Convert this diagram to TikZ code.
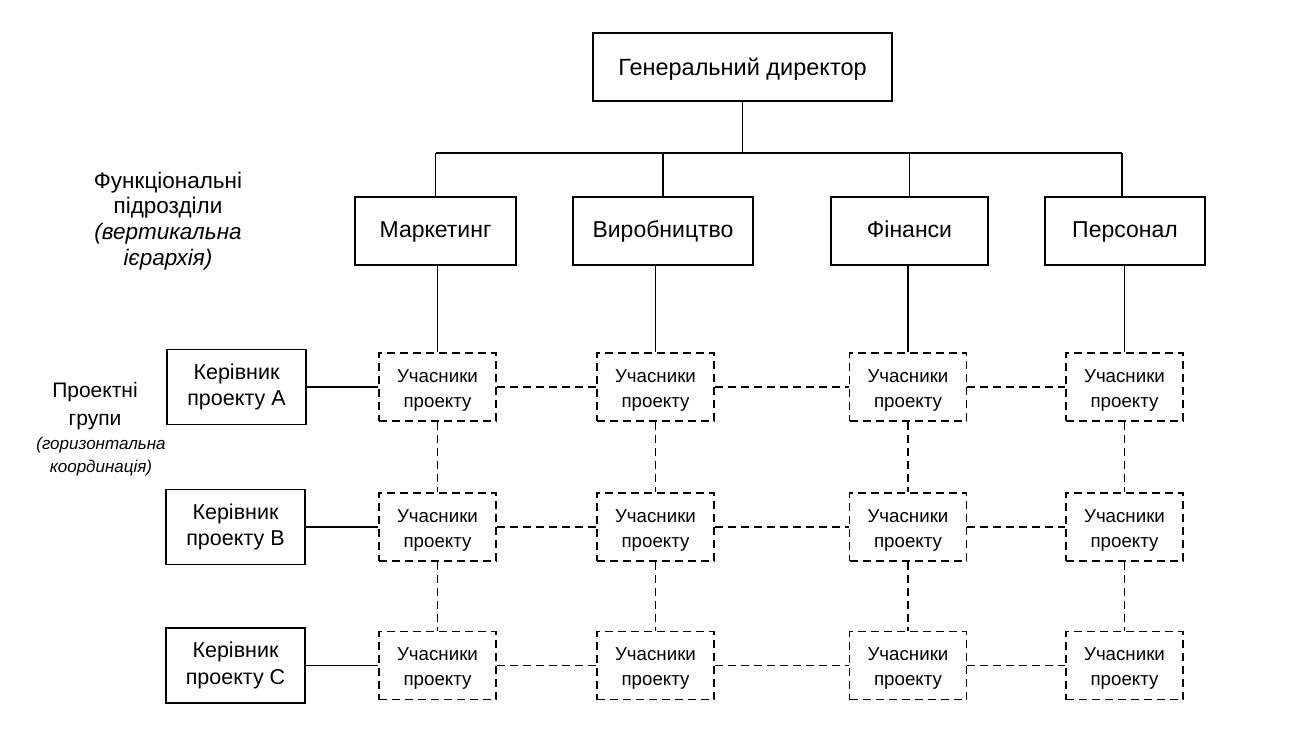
\documentclass[tikz,border=0pt]{standalone}
\usepackage{fontspec}
\setmainfont{Liberation Sans}
\begin{document}
\begin{tikzpicture}[x=1pt,y=-1pt,
  solidbox/.style={draw, line width=1.5pt, minimum height=68pt, inner sep=0pt, align=center, text height=16pt, text depth=4pt, font=\fontsize{23}{26}\selectfont},
  mgrbox/.style={draw, line width=1.5pt, minimum width=139pt, minimum height=75pt, inner sep=0pt, align=center, font=\fontsize{21.5}{26.5}\selectfont},
  membox/.style={draw, line width=1.4pt, dash pattern=on 8pt off 5pt, minimum width=117pt, minimum height=68pt, inner sep=0pt, align=center, font=\fontsize{18.7}{25}\selectfont},
  conn/.style={line width=1.5pt},
  dconn/.style={line width=1.4pt, dash pattern=on 8pt off 5pt},
  lbl/.style={align=center, font=\fontsize{22.5}{25.5}\selectfont},
  lbli/.style={align=center, font=\fontsize{17}{23}\selectfont\itshape}
]
\useasboundingbox (0,0) rectangle (1304,747);
\fill[white] (0,0) rectangle (1304,747);

\node[solidbox, minimum width=299pt, text height=21pt, font=\fontsize{23.5}{26}\selectfont] (gen) at (742.5,67) {Генеральний директор};

\node[solidbox, minimum width=161pt] (mark) at (435.5,231) {Маркетинг};
\node[solidbox, minimum width=180pt] (vyr) at (663,231) {Виробництво};
\node[solidbox, minimum width=157pt] (fin) at (909.5,231) {Фінанси};
\node[solidbox, minimum width=160pt] (pers) at (1125,231) {Персонал};

\coordinate (busL) at (435.5,153);
\coordinate (busR) at (1122,153);

\node[mgrbox] (ma) at (236.5,387) {Керівник\\проекту A};
\node[mgrbox] (mb) at (235.5,527) {Керівник\\проекту B};
\node[mgrbox] (mc) at (235.5,665.5) {Керівник\\проекту C};

\foreach \r/\y in {1/387,2/527,3/665.5}{
  \node[membox] (u\r1) at (437.5,\y) {\rule{0pt}{19.5pt}Учасники\\проекту};
  \node[membox] (u\r2) at (655.5,\y) {\rule{0pt}{19.5pt}Учасники\\проекту};
  \node[membox] (u\r3) at (908,\y) {\rule{0pt}{19.5pt}Учасники\\проекту};
  \node[membox] (u\r4) at (1124.5,\y) {\rule{0pt}{19.5pt}Учасники\\проекту};
}

\node[lbl] (fl1) at (168,195) {Функціональні\\підрозділи};
\node[lbli, font=\fontsize{22.5}{25.5}\selectfont\itshape] (fl2) at (168,246.5) {(вертикальна\\ієрархія)};
\node[lbl, font=\fontsize{21}{28}\selectfont] (pl1) at (95,406) {Проектні\\групи};
\node[lbli] (pl2) at (101,457) {(горизонтальна\\координація)};

% hierarchy
\draw[conn] (gen.south) -- (gen.south |- busL);
\draw[conn] (busL) -- (busR);
\draw[conn] (mark.north |- busL) -- (mark.north);
\draw[conn] (vyr.north |- busL) -- (vyr.north);
\draw[conn] (fin.north |- busL) -- (fin.north);
\draw[conn] (busR) -- (busR |- pers.north);

\draw[conn] (u11.north |- mark.south) -- (u11.north);
\draw[conn] (u12.north |- vyr.south) -- (u12.north);
\draw[conn] (u13.north |- fin.south) -- (u13.north);
\draw[conn] (u14.north |- pers.south) -- (u14.north);

% managers
\draw[conn, line width=1.2pt] (ma.east) -- (u11.west);
\draw[conn, line width=1.2pt] (mb.east) -- (u21.west);
\draw[conn, line width=1.2pt] (mc.east) -- (u31.west);

% dashed links
\foreach \r in {1,2,3}{
  \draw[dconn] (u\r1.east) -- (u\r2.west);
  \draw[dconn] (u\r2.east) -- (u\r3.west);
  \draw[dconn] (u\r3.east) -- (u\r4.west);
}
\foreach \c in {1,2,3,4}{
  \draw[dconn] (u1\c.south) -- (u2\c.north);
  \draw[dconn] (u2\c.south) -- (u3\c.north);
}
\end{tikzpicture}
\end{document}
